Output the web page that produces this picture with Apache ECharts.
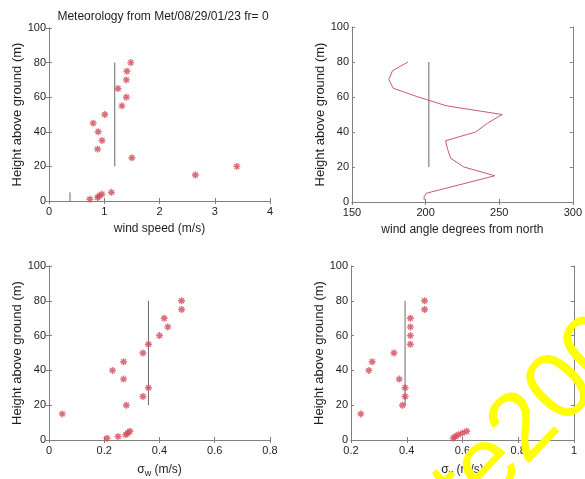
<!DOCTYPE html>
<html>
<head>
<meta charset="utf-8">
<script src="https://cdn.jsdelivr.net/npm/echarts@6/dist/echarts.min.js"></script>
<style>
  html, body { margin: 0; padding: 0; background: #fff; }
  #chart { width: 585px; height: 479px; }
</style>
</head>
<body>
<div id="chart"></div>
<script>
// Sonde levels (m above ground)
const heights = [1, 2, 3, 4, 5, 15, 20, 25, 30, 35, 40, 45, 50, 55, 60, 65, 70, 75, 80];
// Horizontal wind speed (m/s)
const windSpeed = [0.74, 0.88, 0.91, 0.96, 1.13, 2.65, 3.40, 1.50, 0.88, 0.96, 0.89, 0.80, 1.01, 1.32, 1.40, 1.25, 1.40, 1.41, 1.48];
// Wind direction (degrees from north)
const windAngle = [199, 199, 199, 199.5, 200.5, 247, 226, 217, 215, 213.5, 234, 242, 252, 214, 195, 178, 175, 177.5, 188];
// Vertical velocity std dev (m/s)
const sigmaW = [0.21, 0.25, 0.278, 0.285, 0.293, 0.048, 0.28, 0.34, 0.36, 0.27, 0.23, 0.27, 0.34, 0.36, 0.40, 0.43, 0.417, 0.48, 0.48];
// Lateral velocity std dev (m/s)
const sigmaV = [0.567, 0.574, 0.585, 0.60, 0.615, 0.235, 0.385, 0.394, 0.394, 0.373, 0.264, 0.276, 0.354, 0.413, 0.413, 0.413, 0.413, 0.464, 0.464];

// Layer-average reference values, drawn over the 20-80 m layer
const layerBottom = 20, layerTop = 80;
const speedRef = 1.19, angleRef = 202.2, sigmaWRef = 0.36, sigmaVRef = 0.394;
// Surface speed marker (0-5 m)
const surfaceSpeed = 0.38, surfaceTop = 5;

// Axis tick settings
const yTicks = { min: 0, max: 100, interval: 20 };
const xTicks = [
  { min: 0, max: 4, interval: 1 },
  { min: 150, max: 300, interval: 50 },
  { min: 0, max: 0.8, interval: 0.2 },
  { min: 0.2, max: 1, interval: 0.2 }
];
const xNames = ['wind speed (m/s)', 'wind angle degrees from north', '{s|σ}{sub|w}{s| (m/s)}', '{s|σ}{sub|v}{s| (m/s)}'];
const yName = 'Height above ground (m)';
const titleText = 'Meteorology from Met/08/29/01/23 fr= 0';
const stampText = 'Date2001';

const grids = [
  { left: 49, top: 28, width: 221, height: 173 },
  { left: 352, top: 27, width: 222, height: 175 },
  { left: 49, top: 266, width: 221, height: 174 },
  { left: 351, top: 266, width: 223, height: 174 }
];

const FONT = '"Liberation Sans", Arial, Helvetica, sans-serif';
const AXIS_COLOR = '#808080';
const TEXT_COLOR = '#1e1e1e';
const MARK_COLOR = '#d24a5a';
const REF_COLOR = '#6a6a6a';
const ASTERISK = 'path://M5,0L5,10M0,5L10,5M1.5,1.5L8.5,8.5M1.5,8.5L8.5,1.5';

function fmt(v) {
  return String(Math.round(v * 1000) / 1000);
}

const xAxis = [], yAxis = [];
grids.forEach((g, i) => {
  const t = xTicks[i];
  xAxis.push({
    type: 'value', gridIndex: i, position: 'bottom',
    min: t.min, max: t.max, interval: t.interval,
    name: xNames[i], nameLocation: 'middle', nameGap: 22,
    nameTextStyle: {
      fontFamily: FONT, fontSize: 12, color: TEXT_COLOR,
      rich: {
        s: { fontFamily: FONT, fontSize: 12, color: TEXT_COLOR },
        sub: { fontFamily: FONT, fontSize: 9, color: TEXT_COLOR, padding: [7, 0, 0, 0] }
      }
    },
    axisLine: { show: true, lineStyle: { color: AXIS_COLOR, width: 1 } },
    axisTick: { show: true, inside: true, length: 3, lineStyle: { color: AXIS_COLOR } },
    axisLabel: { fontFamily: FONT, fontSize: 11, color: TEXT_COLOR, margin: 5, formatter: fmt },
    splitLine: { show: false }
  });
  xAxis.push({
    type: 'value', gridIndex: i, position: 'top',
    min: t.min, max: t.max, interval: t.interval,
    axisLine: { show: true, lineStyle: { color: AXIS_COLOR, width: 1 } },
    axisTick: { show: true, inside: true, length: 3, lineStyle: { color: AXIS_COLOR } },
    axisLabel: { show: false },
    splitLine: { show: false }
  });
  yAxis.push({
    type: 'value', gridIndex: i, position: 'left',
    min: yTicks.min, max: yTicks.max, interval: yTicks.interval,
    name: yName, nameLocation: 'middle', nameGap: 24, nameRotate: 90,
    nameTextStyle: { fontFamily: FONT, fontSize: 13, color: TEXT_COLOR },
    axisLine: { show: true, lineStyle: { color: AXIS_COLOR, width: 1 } },
    axisTick: { show: true, inside: true, length: 3, lineStyle: { color: AXIS_COLOR } },
    axisLabel: { fontFamily: FONT, fontSize: 11, color: TEXT_COLOR, margin: 3 },
    splitLine: { show: false }
  });
  yAxis.push({
    type: 'value', gridIndex: i, position: 'right',
    min: yTicks.min, max: yTicks.max, interval: yTicks.interval,
    axisLine: { show: true, lineStyle: { color: AXIS_COLOR, width: 1 } },
    axisTick: { show: true, inside: true, length: 3, lineStyle: { color: AXIS_COLOR } },
    axisLabel: { show: false },
    splitLine: { show: false }
  });
});

function pairs(xs) {
  return xs.map((x, k) => [x, heights[k]]);
}
function refLine(i, x, y0, y1) {
  return {
    type: 'line', xAxisIndex: 2 * i, yAxisIndex: 2 * i,
    data: [[x, y0], [x, y1]], symbol: 'none', silent: true,
    lineStyle: { color: REF_COLOR, width: 1 }, z: 2
  };
}
function stars(i, xs) {
  return {
    type: 'scatter', xAxisIndex: 2 * i, yAxisIndex: 2 * i,
    data: pairs(xs), symbol: ASTERISK, symbolSize: 7,
    itemStyle: { color: 'rgba(0,0,0,0)', borderColor: MARK_COLOR, borderWidth: 1.4 },
    z: 3
  };
}

const series = [
  refLine(0, speedRef, layerBottom, layerTop),
  refLine(0, surfaceSpeed, 0, surfaceTop),
  stars(0, windSpeed),
  refLine(1, angleRef, layerBottom, layerTop),
  {
    type: 'line', xAxisIndex: 2, yAxisIndex: 2,
    data: pairs(windAngle), symbol: 'none',
    lineStyle: { color: '#c85a70', width: 1 }, z: 3
  },
  refLine(2, sigmaWRef, layerBottom, layerTop),
  stars(2, sigmaW),
  refLine(3, sigmaVRef, layerBottom, layerTop),
  stars(3, sigmaV)
];

const chart = echarts.init(document.getElementById('chart'), null, { renderer: 'canvas' });
chart.setOption({
  animation: false,
  backgroundColor: '#ffffff',
  title: {
    text: titleText, left: 158, top: 6, textAlign: 'center',
    textStyle: { fontFamily: FONT, fontSize: 12, fontWeight: 'normal', color: TEXT_COLOR }
  },
  grid: grids.map(g => Object.assign({ containLabel: false }, g)),
  xAxis: xAxis,
  yAxis: yAxis,
  series: series,
  graphic: [{
    type: 'text', x: 400, y: 627, rotation: 46 * Math.PI / 180, z: 100,
    style: {
      text: stampText, fill: '#ffff00',
      font: '96px "Liberation Sans", Arial, sans-serif',
      textAlign: 'left', textVerticalAlign: 'bottom'
    }
  }]
});
</script>
</body>
</html>
